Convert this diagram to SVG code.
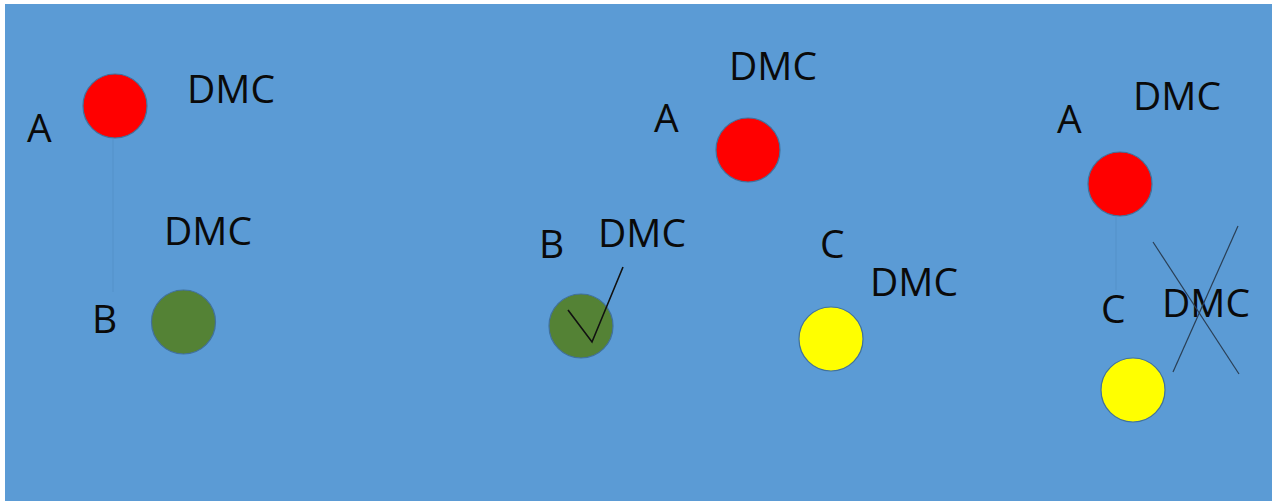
<svg xmlns="http://www.w3.org/2000/svg" width="1272" height="501" viewBox="0 0 1272 501">
  <style>
    .lbl { font-family: "Open Sans", "Liberation Sans", sans-serif; font-size: 39px; fill: #0a0a0a; }
    .dot { stroke: #41719c; stroke-width: 1.2; }
    .red { fill: #ff0000; }
    .green { fill: #548235; }
    .yellow { fill: #ffff00; }
    .faint { stroke: #5591c9; stroke-width: 1; }
    .mark { stroke: #111111; stroke-width: 1.6; fill: none; }
    .cross { stroke: #2a3f55; stroke-width: 1.2; fill: none; }
  </style>
  <rect x="0" y="0" width="1272" height="501" fill="#ffffff"/>
  <rect x="5" y="4" width="1267" height="497" fill="#5b9bd5"/>

  <!-- left group -->
  <g id="node-a1">
    <circle class="dot red" cx="115" cy="106" r="32"/>
    <text class="lbl" x="27" y="142">A</text>
    <text class="lbl" x="187" y="103">DMC</text>
  </g>
  <g id="node-b1">
    <circle class="dot green" cx="183.5" cy="322" r="32"/>
    <text class="lbl" x="92" y="333">B</text>
    <text class="lbl" x="164" y="245">DMC</text>
  </g>

  <!-- middle group -->
  <g id="node-a2">
    <circle class="dot red" cx="748" cy="150" r="32"/>
    <text class="lbl" x="654" y="132">A</text>
    <text class="lbl" x="729" y="80">DMC</text>
  </g>
  <g id="node-b2">
    <circle class="dot green" cx="581" cy="326" r="32"/>
    <text class="lbl" x="539" y="258">B</text>
    <text class="lbl" x="598" y="247">DMC</text>
  </g>
  <g id="node-c2">
    <circle class="dot yellow" cx="831" cy="339" r="32"/>
    <text class="lbl" x="820" y="258">C</text>
    <text class="lbl" x="870" y="296">DMC</text>
  </g>

  <!-- right group -->
  <g id="node-a3">
    <circle class="dot red" cx="1120" cy="184" r="32"/>
    <text class="lbl" x="1057" y="133">A</text>
    <text class="lbl" x="1133" y="110">DMC</text>
  </g>
  <g id="node-c3">
    <circle class="dot yellow" cx="1133" cy="390" r="32"/>
    <text class="lbl" x="1101" y="323">C</text>
    <text class="lbl" x="1162" y="317">DMC</text>
  </g>

  <!-- links, tick and cross drawn over the nodes -->
  <g id="connectors">
    <line class="faint" x1="113" y1="139" x2="113" y2="292"/>
    <line class="faint" x1="1116" y1="217" x2="1116" y2="290"/>
    <polyline class="mark" points="568,310 592,342 623,267"/>
    <line class="cross" x1="1153" y1="242" x2="1239" y2="374"/>
    <line class="cross" x1="1238" y1="226" x2="1173" y2="372"/>
  </g>
</svg>
